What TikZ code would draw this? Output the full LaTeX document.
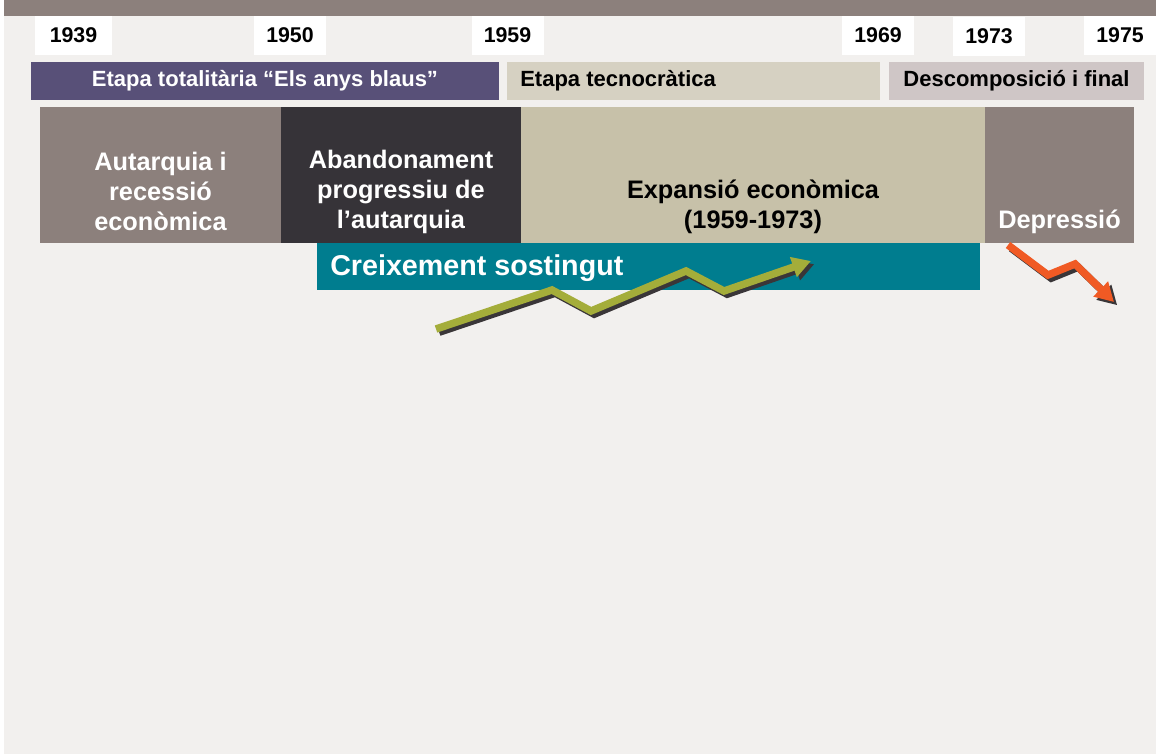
\documentclass[tikz,border=0pt]{standalone}
\usepackage{fontspec}
\setmainfont{Liberation Sans}
\usetikzlibrary{arrows.meta}

\definecolor{paper}{RGB}{242,240,238}
\definecolor{taupe}{RGB}{140,128,124}
\definecolor{blaus}{RGB}{88,80,120}
\definecolor{tecno}{RGB}{214,209,194}
\definecolor{descomp}{RGB}{207,198,198}
\definecolor{fosc}{RGB}{54,51,56}
\definecolor{expansio}{RGB}{199,193,169}
\definecolor{petroli}{RGB}{0,125,143}
\definecolor{oliva}{RGB}{164,173,58}
\definecolor{taronja}{RGB}{240,90,36}
\definecolor{ombra}{RGB}{58,54,56}

\tikzset{
  fletxa/.style={line width=5.6pt, line join=miter,
    -{Triangle[length=14pt,width=15pt]}}
}

\begin{document}
\begin{tikzpicture}[x=0.75pt,y=-0.75pt,font=\bfseries]

      \useasboundingbox (0,0) rectangle (1156,754);
      \fill[white] (0,0) rectangle (1156,754);
      \fill[paper] (4,0) rectangle (1156,754);
      \fill[taupe] (4,0) rectangle (1156,16);

      \begin{scope}[every node/.style={fill=white, inner sep=0pt, minimum width=54pt, minimum height=29pt,
          font=\bfseries\fontsize{16}{18}\selectfont}]
        \node (1939) at (73.5,35.5) [minimum width=58pt] {1939};
        \node (1950) at (290,35.5)   {1950};
        \node (1959) at (507.5,35.5) {1959};
        \node (1969) at (878,35.5)   {1969};
        \node (1973) at (989,36.5)   {1973};
        \node (1975) at (1120,35.5)  {1975};
      \end{scope}

      \begin{scope}[every node/.style={inner sep=0pt, minimum height=28.5pt,
          font=\bfseries\fontsize{16.5}{20}\selectfont}]
        \node (blaus)   at (265,81)    [fill=blaus, text=white, minimum width=351pt] {Etapa totalitària “Els anys blaus”};
        \node (tecno)   at (693.5,81)  [fill=tecno, minimum width=279.75pt] {};
        \node (descomp) at (1016.5,81) [fill=descomp, minimum width=191.25pt] {Descomposició i final};
        \node (tecnotxt) at (520,81) [anchor=west, minimum height=0pt] {Etapa tecnocràtica};
      \end{scope}

      \begin{scope}[every node/.style={inner sep=0pt, minimum height=102pt}]
        \node (b1) at (160.5,175) [fill=taupe, minimum width=180.75pt] {};
        \node (b2) at (401,175)   [fill=fosc, minimum width=180pt] {};
        \node (b3) at (753,175)   [fill=expansio, minimum width=348pt] {};
        \node (b4) at (1059.5,175) [fill=taupe, minimum width=111.75pt] {};
      \end{scope}

      \begin{scope}[every node/.style={align=center, inner sep=0pt, font=\bfseries\fontsize{19}{22.5}\selectfont}]
        \node (autarquia)  at (160.5,191) [text=white] {Autarquia i\\recessió\\econòmica};
        \node (abandon)    at (401,192)   [text=white] {Abandonament\\progressiu de\\l’autarquia};
        \node (expansio)   at (753,207)   {Expansió econòmica\\(1959-1973)};
        \node (depressio)  at (1059.5,222) [text=white] {Depressió};
      \end{scope}

      \node (creix) at (648.5,266.5) [fill=petroli, inner sep=0pt, minimum width=497.25pt, minimum height=35.25pt] {};
      \node (creixtxt) at (330,268) [anchor=west, inner sep=0pt, text=white,
        font=\bfseries\fontsize{21.5}{26}\selectfont] {Creixement sostingut};

      % creixement
      \coordinate (g1) at (436,329);
      \coordinate (g2) at (552,290);
      \coordinate (g3) at (591,311);
      \coordinate (g4) at (686,271);
      \coordinate (g5) at (724,291);
      \coordinate (g6) at (811,261);

      % depressio
      \coordinate (d1) at (1008,245);
      \coordinate (d2) at (1048,275);
      \coordinate (d3) at (1075,264);
      \coordinate (d4) at (1114,302);

      % ombres
      \begin{scope}[transform canvas={xshift=2.4pt,yshift=-2.4pt}]
        \draw[fletxa, ombra] (g1) -- (g2) -- (g3) -- (g4) -- (g5) -- (g6);
        \draw[fletxa, ombra] (d1) -- (d2) -- (d3) -- (d4);
      \end{scope}

      \draw[fletxa, oliva] (g1) -- (g2) -- (g3) -- (g4) -- (g5) -- (g6);
      \draw[fletxa, taronja] (d1) -- (d2) -- (d3) -- (d4);

    \end{tikzpicture}
\end{document}
